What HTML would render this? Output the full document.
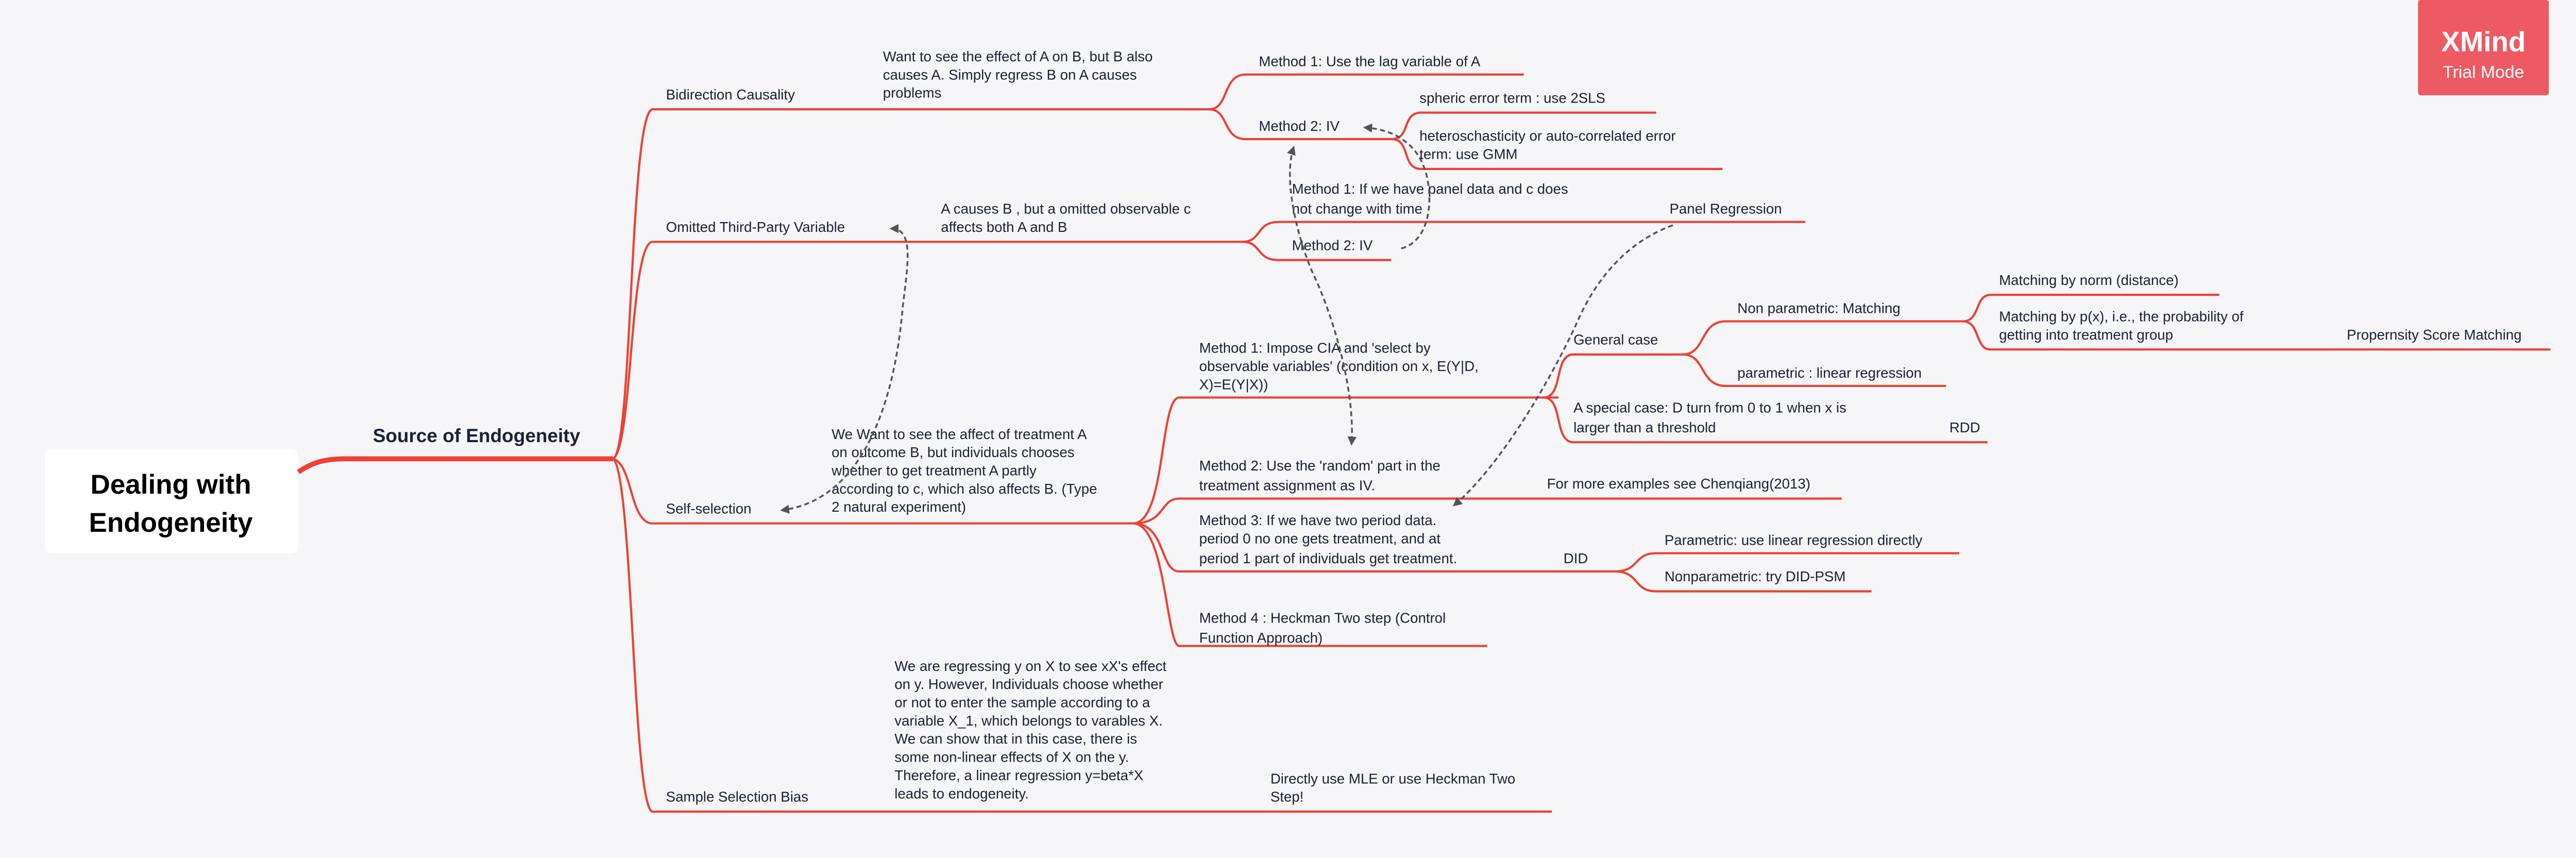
<!DOCTYPE html>
<html><head><meta charset="utf-8"><style>
html,body{margin:0;padding:0;background:#f6f6f8;}
svg{display:block}
text{font-family:"Liberation Sans",sans-serif;font-size:8.6px;fill:#1b2135;}
.r{fill:none;stroke:#ee4035;stroke-width:1.3;}
.d{fill:none;stroke:#555;stroke-width:1.1;stroke-dasharray:3 2;}
</style></head><body>
<svg width="5041" height="1665" viewBox="0 0 1568 518" xmlns="http://www.w3.org/2000/svg">
<defs>
<marker id="ah" viewBox="0 0 10 10" refX="8" refY="5" markerWidth="5" markerHeight="5" orient="auto-start-reverse"><path d="M0,0 L10,5 L0,10 z" fill="#555"/></marker>
</defs>
<rect width="1568" height="518" fill="#f6f6f8"/>
<!-- root -->
<rect x="27" y="271" width="153" height="63" rx="4" fill="#fff"/>
<text x="103" y="298" text-anchor="middle" style="font-size:16.5px;font-weight:bold;fill:#000">Dealing with</text>
<text x="103" y="321" text-anchor="middle" style="font-size:16.5px;font-weight:bold;fill:#000">Endogeneity</text>
<path d="M180,285 C190,278 198,277 210,277 L370,277" fill="none" stroke="#ee4035" stroke-width="3"/>
<text x="225" y="267" style="font-size:11.5px;font-weight:bold">Source of Endogeneity</text>
<!-- main branches -->
<path class="r" d="M370,277 C382,272 380,66 394,66 L730,66"/>
<path class="r" d="M370,277 C382,270 380,146 394,146 L750,146"/>
<path class="r" d="M370,277 C382,280 380,316 394,316 L690,316"/>
<path class="r" d="M370,277 C382,285 382,490 394,490 L937,490"/>
<text x="402" y="60">Bidirection Causality</text>
<text x="402" y="140">Omitted Third-Party Variable</text>
<text x="402" y="310">Self-selection</text>
<text x="402" y="484">Sample Selection Bias</text>
<!-- bidirection -->
<text x="533" y="37">Want to see the effect of A on B, but B also</text>
<text x="533" y="48">causes A.  Simply regress B on A causes</text>
<text x="533" y="59">problems</text>
<path class="r" d="M730,66 C742,66 738,45 752,45 L920,45"/>
<path class="r" d="M730,66 C742,66 738,84 752,84 L840,84"/>
<text x="760" y="40">Method 1: Use the lag variable of A</text>
<text x="760" y="79">Method 2: IV</text>
<path class="r" d="M840,84 C852,84 846,68 858,68 L1000,68"/>
<path class="r" d="M840,84 C852,84 846,102 858,102 L1040,102"/>
<text x="857" y="62">spheric error term : use 2SLS</text>
<text x="857" y="85">heteroschasticity or auto-correlated error</text>
<text x="857" y="96">term: use GMM</text>
<!-- omitted -->
<text x="568" y="129">A causes B , but a omitted observable c</text>
<text x="568" y="140">affects both A and B</text>
<path class="r" d="M750,146 C762,146 758,134 772,134 L1090,134"/>
<path class="r" d="M750,146 C762,146 758,157 772,157 L840,157"/>
<text x="780" y="117">Method 1: If we have panel data and c does</text>
<text x="780" y="129">not change with time</text>
<text x="1008" y="129">Panel Regression</text>
<text x="780" y="151">Method 2: IV</text>
<!-- self-selection -->
<text x="502" y="265">We Want to see the affect of treatment A</text>
<text x="502" y="276">on outcome B, but individuals chooses</text>
<text x="502" y="287">whether to get treatment A partly</text>
<text x="502" y="298">according to c, which also affects B. (Type</text>
<text x="502" y="309">2 natural experiment)</text>
<path class="r" d="M684,316 C704,316 700,240 712,240 L941,240"/>
<path class="r" d="M684,316 C704,316 700,301 712,301 L1112,301"/>
<path class="r" d="M684,316 C704,316 700,345 712,345 L975,345"/>
<path class="r" d="M684,316 C704,316 704,390 712,390 L898,390"/>
<text x="724" y="213">Method 1: Impose CIA and 'select by</text>
<text x="724" y="224">observable variables' (condition on x, E(Y|D,</text>
<text x="724" y="235">X)=E(Y|X))</text>
<path class="r" d="M932,240 C944,240 938,214 950,214 L1016,214"/>
<path class="r" d="M932,240 C944,240 938,267 950,267 L1200,267"/>
<text x="950" y="208">General case</text>
<path class="r" d="M1016,214 C1030,214 1026,194 1042,194 L1185,194"/>
<path class="r" d="M1016,214 C1030,214 1026,233 1042,233 L1175,233"/>
<text x="1049" y="189">Non parametric: Matching</text>
<text x="1049" y="228">parametric : linear regression</text>
<path class="r" d="M1185,194 C1196,194 1192,178 1202,178 L1340,178"/>
<path class="r" d="M1185,194 C1196,194 1192,211 1202,211 L1540,211"/>
<text x="1207" y="172">Matching by norm (distance)</text>
<text x="1207" y="194">Matching by p(x), i.e., the probability of</text>
<text x="1207" y="205">getting into treatment group</text>
<text x="1417" y="205">Propernsity Score Matching</text>
<text x="950" y="249">A special case: D turn from 0 to 1 when x is</text>
<text x="950" y="261">larger than a threshold</text>
<text x="1177" y="261">RDD</text>
<text x="724" y="284">Method 2: Use the 'random' part in the</text>
<text x="724" y="296">treatment assignment as IV.</text>
<text x="934" y="295">For more examples see Chenqiang(2013)</text>
<text x="724" y="317">Method 3: If we have two period data.</text>
<text x="724" y="328">period 0 no one gets treatment, and at</text>
<text x="724" y="340">period 1 part of individuals get treatment.</text>
<text x="944" y="340">DID</text>
<path class="r" d="M975,345 C990,345 986,334 1000,334 L1183,334"/>
<path class="r" d="M975,345 C990,345 986,357 1000,357 L1130,357"/>
<text x="1005" y="329">Parametric: use linear regression directly</text>
<text x="1005" y="351">Nonparametric: try DID-PSM</text>
<text x="724" y="376">Method 4 : Heckman Two step (Control</text>
<text x="724" y="388">Function Approach)</text>
<!-- sample selection -->
<text x="540" y="405">We are regressing y on X to see xX's effect</text>
<text x="540" y="416">on y. However, Individuals choose whether</text>
<text x="540" y="427">or not to enter the sample according to a</text>
<text x="540" y="438">variable X_1, which belongs to varables X.</text>
<text x="540" y="449">We can show that in this case, there is</text>
<text x="540" y="460">some non-linear effects of X on the y.</text>
<text x="540" y="471">Therefore, a linear regression y=beta*X</text>
<text x="540" y="482">leads to endogeneity.</text>
<text x="767" y="473">Directly use MLE or use Heckman Two</text>
<text x="767" y="484">Step!</text>
<!-- dashed relationships -->
<path class="d" d="M846,150 C866,145 866,112 858,97 C852,85 840,78 824,77" marker-end="url(#ah)"/>
<path class="d" d="M781,89 C774,110 785,150 795,170 C808,200 818,240 816,268" marker-start="url(#ah)" marker-end="url(#ah)"/>
<path class="d" d="M1010,136 C985,145 965,165 952,195 C935,232 905,282 878,305" marker-end="url(#ah)"/>
<path class="d" d="M538,138 C552,138 548,160 545,185 C540,245 520,302 472,308" marker-start="url(#ah)" marker-end="url(#ah)"/>
<!-- badge -->
<rect x="1460" y="0" width="79" height="57.5" rx="1.5" fill="#ee5a63"/>
<text x="1499.5" y="31" text-anchor="middle" style="font-size:17px;font-weight:bold;fill:#fff">XMind</text>
<text x="1499.5" y="47" text-anchor="middle" style="font-size:10.5px;fill:#fff">Trial Mode</text>
</svg>
</body></html>
